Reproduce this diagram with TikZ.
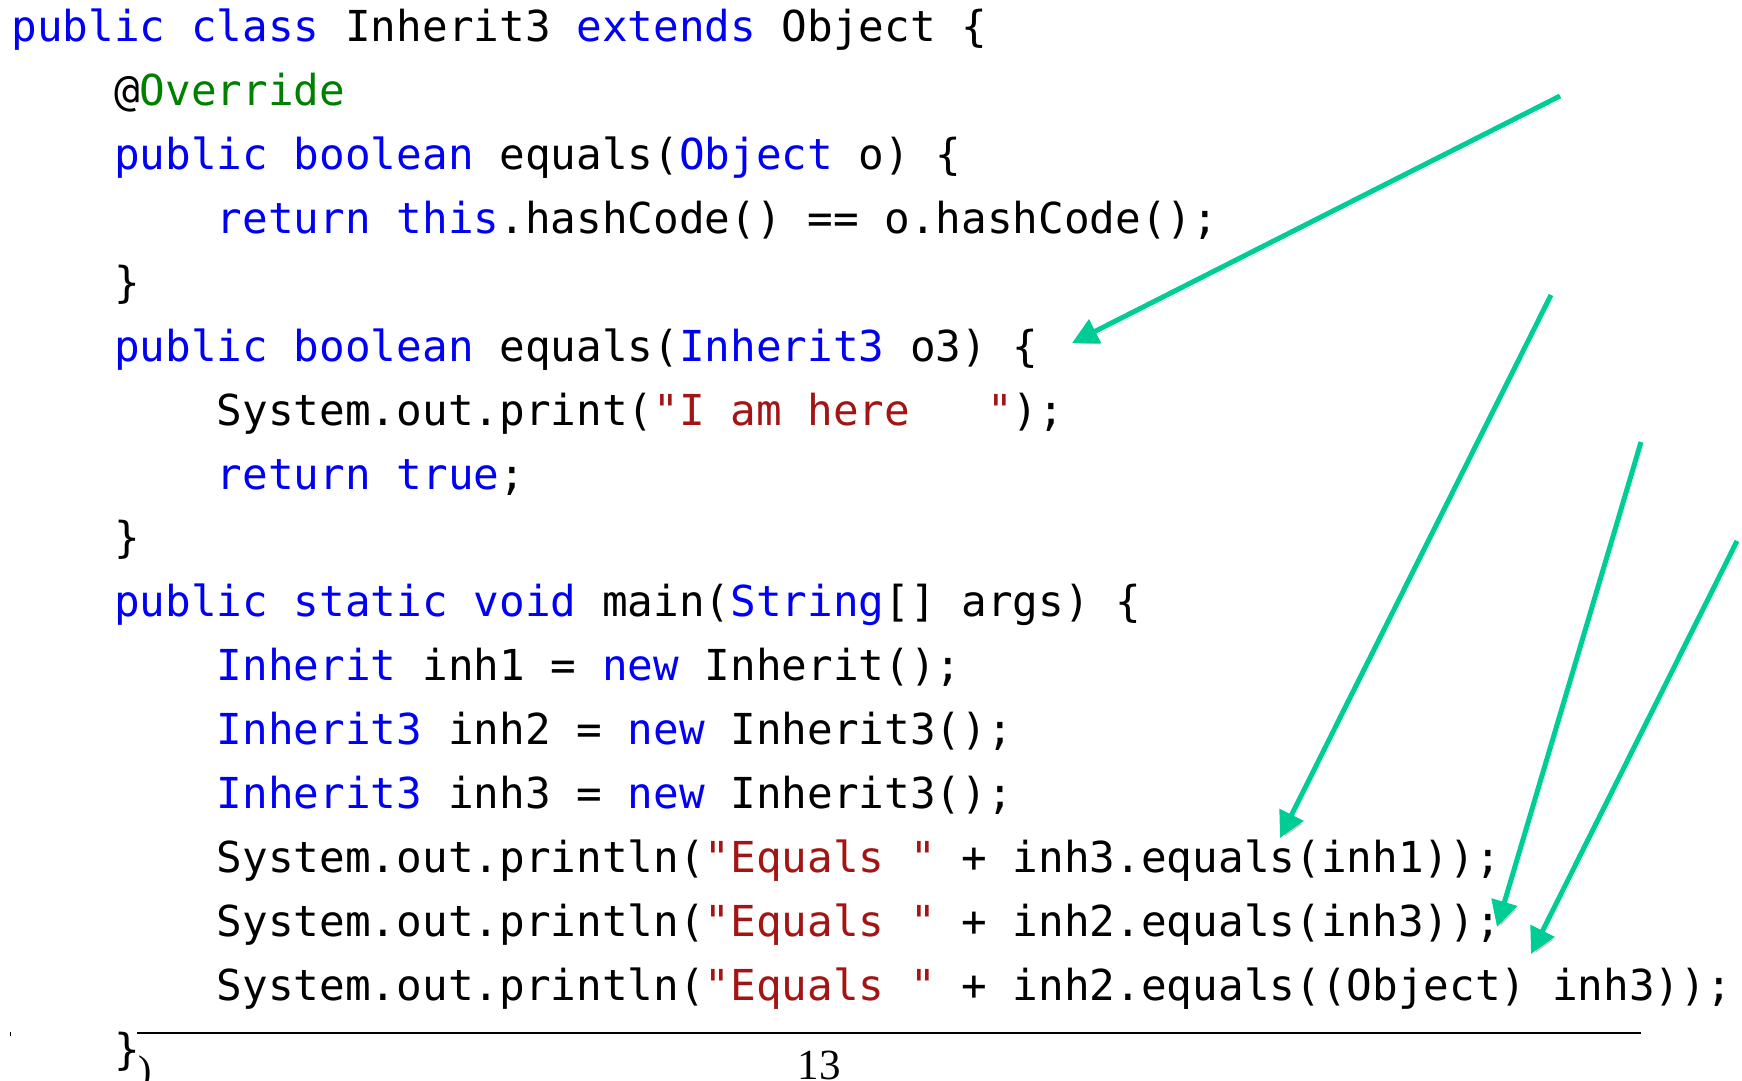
\documentclass[tikz,border=0pt]{standalone}
\usepackage{fontspec}
\usetikzlibrary{arrows.meta}
\newfontfamily\codefont{DejaVu Sans Mono}
\newfontfamily\serifnum{Liberation Serif}
\definecolor{kwblue}{RGB}{0,0,245}
\definecolor{anngreen}{RGB}{0,128,0}
\definecolor{strred}{RGB}{163,21,21}
\definecolor{arrgreen}{RGB}{0,204,150}
\newcommand{\kw}[1]{\textcolor{kwblue}{#1}}
\newcommand{\ann}[1]{\textcolor{anngreen}{#1}}
\newcommand{\str}[1]{\textcolor{strred}{#1}}
\begin{document}
\begin{tikzpicture}[x=1pt,y=-1pt,
  codeline/.style={anchor=base west,inner sep=0pt,outer sep=0pt,
    font=\codefont\fontsize{42.65}{50}\selectfont\frenchspacing},
  arr/.style={draw=arrgreen,line width=5pt,
    -{Triangle[length=26pt,width=26pt]},
    preaction={draw=black,opacity=0.18,
      transform canvas={shift={(2.5pt,-3pt)}}}}]
\useasboundingbox (0,0) rectangle (1742,1081);
\def\xo{11.5}
\def\cw{25.68}
\def\lh{63.9}
\def\bo{41.7}
% code lines
\node[codeline] (l1) at ({\xo},{\bo+0*\lh}) {\kw{public class} Inherit3 \kw{extends} Object \{};
\node[codeline] (l2) at ({\xo+4*\cw},{\bo+1*\lh}) {@\ann{Override}};
\node[codeline] (l3) at ({\xo+4*\cw},{\bo+2*\lh}) {\kw{public boolean} equals(\kw{Object} o) \{};
\node[codeline] (l4) at ({\xo+8*\cw},{\bo+3*\lh}) {\kw{return this}.hashCode() == o.hashCode();};
\node[codeline] (l5) at ({\xo+4*\cw},{\bo+4*\lh}) {\}};
\node[codeline] (l6) at ({\xo+4*\cw},{\bo+5*\lh}) {\kw{public boolean} equals(\kw{Inherit3} o3) \{};
\node[codeline] (l7) at ({\xo+8*\cw},{\bo+6*\lh}) {System.out.print(\str{"I~am~here~~~"});};
\node[codeline] (l8) at ({\xo+8*\cw},{\bo+7*\lh}) {\kw{return true};};
\node[codeline] (l9) at ({\xo+4*\cw},{\bo+8*\lh}) {\}};
\node[codeline] (l10) at ({\xo+4*\cw},{\bo+9*\lh}) {\kw{public static void} main(\kw{String}[] args) \{};
\node[codeline] (l11) at ({\xo+8*\cw},{\bo+10*\lh}) {\kw{Inherit} inh1 = \kw{new} Inherit();};
\node[codeline] (l12) at ({\xo+8*\cw},{\bo+11*\lh}) {\kw{Inherit3} inh2 = \kw{new} Inherit3();};
\node[codeline] (l13) at ({\xo+8*\cw},{\bo+12*\lh}) {\kw{Inherit3} inh3 = \kw{new} Inherit3();};
\node[codeline] (l14) at ({\xo+8*\cw},{\bo+13*\lh}) {System.out.println(\str{"Equals~"} + inh3.equals(inh1));};
\node[codeline] (l15) at ({\xo+8*\cw},{\bo+14*\lh}) {System.out.println(\str{"Equals~"} + inh2.equals(inh3));};
\node[codeline] (l16) at ({\xo+8*\cw},{\bo+15*\lh}) {System.out.println(\str{"Equals~"} + inh2.equals((Object)~inh3));};
\node[codeline] (l17) at ({\xo+4*\cw},{\bo+16*\lh}) {\}};
% footer
\coordinate (ruleL) at (137,1033);
\coordinate (ruleR) at (1641,1033);
\draw[line width=2.7pt] (ruleL) -- (ruleR);
\node[anchor=base,inner sep=0pt,font=\serifnum\fontsize{43}{50}\selectfont] (pnum) at (819,1079) {13};
\node[anchor=base west,inner sep=0pt,font=\serifnum\fontsize{40}{48}\selectfont] (frag) at (138,1083) {)};
\fill (9.5,1032) rectangle (11,1036);
% arrows
\coordinate (a1s) at (1560,96);
\coordinate (a1e) at (1072,343);
\coordinate (a2s) at (1551,295);
\coordinate (a2e) at (1280,838);
\coordinate (a3s) at (1641,442);
\coordinate (a3e) at (1497,927);
\coordinate (a4s) at (1737,541);
\coordinate (a4e) at (1531,954);
\draw[arr] (a1s) -- (a1e);
\draw[arr] (a2s) -- (a2e);
\draw[arr] (a3s) -- (a3e);
\draw[arr] (a4s) -- (a4e);
\end{tikzpicture}
\end{document}
